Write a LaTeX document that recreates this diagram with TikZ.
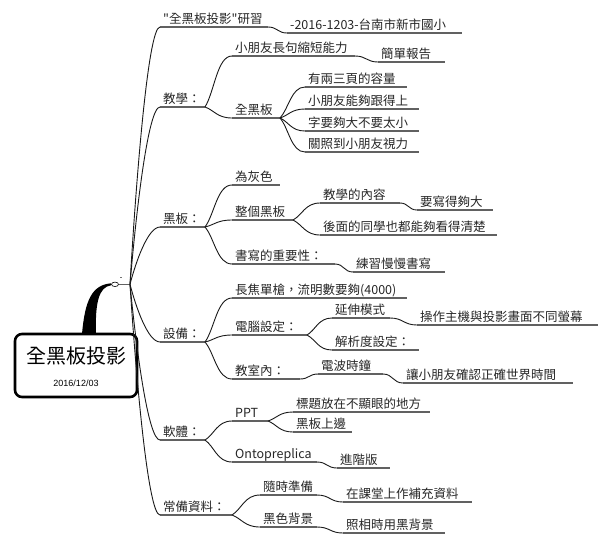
\documentclass[tikz,border=0pt]{standalone}
\usepackage{fontspec}
\newfontfamily\cjk{Noto Sans CJK TC}
\newfontfamily\arialf{Liberation Sans}
\usetikzlibrary{calc,shapes.geometric}
\tikzset{
  lbl/.style={font=\cjk\fontsize{12.5}{14}\selectfont, text=black!85, inner sep=0pt, anchor=base west},
  uline/.style={draw=black!62, line width=1.2pt},
  curve/.style={draw=black!90, line width=0.9pt},
}
\newcommand{\topic}[5]{%
  \coordinate (#1-l) at (#2,#4);
  \coordinate (#1-r) at (#3,#4);
  \node[lbl] (#1) at (#2+3,#4-4) {#5};
  \draw[uline] (#1-l) -- (#1-r);}
\newcommand{\conn}[2]{\draw[curve] let \p1=(#1-r), \p2=(#2-l) in (\p1) .. controls (\x1+0.35*\x2-0.35*\x1, \y1+0.3*\y2-0.3*\y1) and (\x1+0.45*\x2-0.45*\x1, \y2) .. (\p2);}
\newcommand{\sconn}[2]{\draw[curve] let \p1=(#1-r), \p2=(#2-l) in (\p1) .. controls (0.5*\x1+0.5*\x2, \y1) and (0.5*\x1+0.5*\x2, \y2) .. (\p2);}
\newcommand{\mconn}[1]{\draw[curve] let \p1=(hub), \p2=(#1-l) in (\p1) .. controls (\x1+6pt, 0.6*\y1+0.4*\y2) and (\x2-12pt, \y2) .. (\p2);}
\begin{document}
\begin{tikzpicture}[x=1pt,y=-1pt]
\useasboundingbox (0,0) rectangle (609,550);
% root
\node[draw, line width=2.6pt, rounded corners=7pt, minimum width=122pt, minimum height=63pt, inner sep=0pt, fill=white] (root) at (76,365.5) {};
\node[font=\cjk\fontsize{20}{24}\selectfont, inner sep=0pt] (title) at (76,356) {全黑板投影};
\node[font=\arialf\fontsize{9}{11}\selectfont, inner sep=0pt] (date) at (76,383) {2016/12/03};
\fill (82,334) .. controls (85,300) and (92,285) .. (111,283.3) -- (111,285.3) .. controls (99,287) and (95,302) .. (96,334) -- cycle;
\node[draw, ellipse, fill=white, minimum width=7pt, minimum height=4.5pt, inner sep=0pt, line width=0.6pt] (knob) at (115,284.3) {};
\coordinate (hub) at (130,284.3);
\draw[uline, line width=1pt] (knob.east) -- (hub);
\draw[line width=0.8pt, black!55] (120,277.5) -- (122,277.5);
% topics
\topic{yx}{160}{268}{27}{"全黑板投影"研習}
\topic{yxc}{287}{462}{33}{-2016-1203-台南市新市國小}
\topic{jx}{160}{205}{107}{教學：}
\topic{jxa}{232}{355}{56}{小朋友長句縮短能力}
\topic{jxac}{378}{445}{62}{簡單報告}
\topic{jxb}{232}{280}{118}{全黑板}
\topic{jxb1}{305}{407}{87}{有兩三頁的容量}
\topic{jxb2}{305}{419}{109}{小朋友能夠跟得上}
\topic{jxb3}{305}{419}{131}{字要夠大不要太小}
\topic{jxb4}{305}{419}{152}{關照到小朋友視力}
\topic{hb}{160}{205}{227}{黑板：}
\topic{hba}{232}{280}{185}{為灰色}
\topic{hbb}{232}{293}{220}{整個黑板}
\topic{hbb1}{320}{400}{203}{教學的內容}
\topic{hbb1c}{417}{493}{210}{要寫得夠大}
\topic{hbb2}{320}{497}{235}{後面的同學也都能夠看得清楚}
\topic{hbc}{232}{335}{264}{書寫的重要性：}
\topic{hbcc}{353}{445}{272}{練習慢慢書寫}
\topic{sb}{160}{205}{342}{設備：}
\topic{sba}{232}{407}{298}{長焦單槍，流明數要夠(4000)}
\topic{sbb}{232}{307}{335}{電腦設定：}
\topic{sbb1}{332}{390}{318}{延伸模式}
\topic{sbb1c}{417}{598}{325}{操作主機與投影畫面不同螢幕}
\topic{sbb2}{332}{419}{350}{解析度設定：}
\topic{sbc}{232}{300}{379}{教室內：}
\topic{sbc1}{318}{383}{374}{電波時鐘}
\topic{sbc1c}{403}{573}{383}{讓小朋友確認正確世界時間}
\topic{rt}{160}{205}{440}{軟體：}
\topic{rta}{232}{268}{421}{PPT}
\topic{rta1}{293}{430}{412}{標題放在不顯眼的地方}
\topic{rta2}{293}{352}{432}{黑板上邊}
\topic{rtb}{232}{317}{462}{Ontopreplica}
\topic{rtbc}{337}{390}{468}{進階版}
\topic{cb}{160}{232}{515}{常備資料：}
\topic{cba}{260}{317}{495}{隨時準備}
\topic{cbac}{343}{472}{502}{在課堂上作補充資料}
\topic{cbb}{260}{317}{527}{黑色背景}
\topic{cbbc}{343}{445}{533}{照相時用黑背景}
% main connectors
\mconn{yx}
\mconn{jx}
\mconn{hb}
\mconn{sb}
\mconn{rt}
\mconn{cb}
% sub connectors
\sconn{yx}{yxc}
\conn{jx}{jxa}
\conn{jx}{jxb}
\sconn{jxa}{jxac}
\conn{jxb}{jxb1}
\conn{jxb}{jxb2}
\conn{jxb}{jxb3}
\conn{jxb}{jxb4}
\conn{hb}{hba}
\conn{hb}{hbb}
\conn{hb}{hbc}
\conn{hbb}{hbb1}
\conn{hbb}{hbb2}
\sconn{hbb1}{hbb1c}
\sconn{hbc}{hbcc}
\conn{sb}{sba}
\conn{sb}{sbb}
\conn{sb}{sbc}
\conn{sbb}{sbb1}
\conn{sbb}{sbb2}
\sconn{sbb1}{sbb1c}
\sconn{sbc}{sbc1}
\sconn{sbc1}{sbc1c}
\conn{rt}{rta}
\conn{rt}{rtb}
\conn{rta}{rta1}
\conn{rta}{rta2}
\sconn{rtb}{rtbc}
\conn{cb}{cba}
\conn{cb}{cbb}
\sconn{cba}{cbac}
\sconn{cbb}{cbbc}
\end{tikzpicture}
\end{document}
